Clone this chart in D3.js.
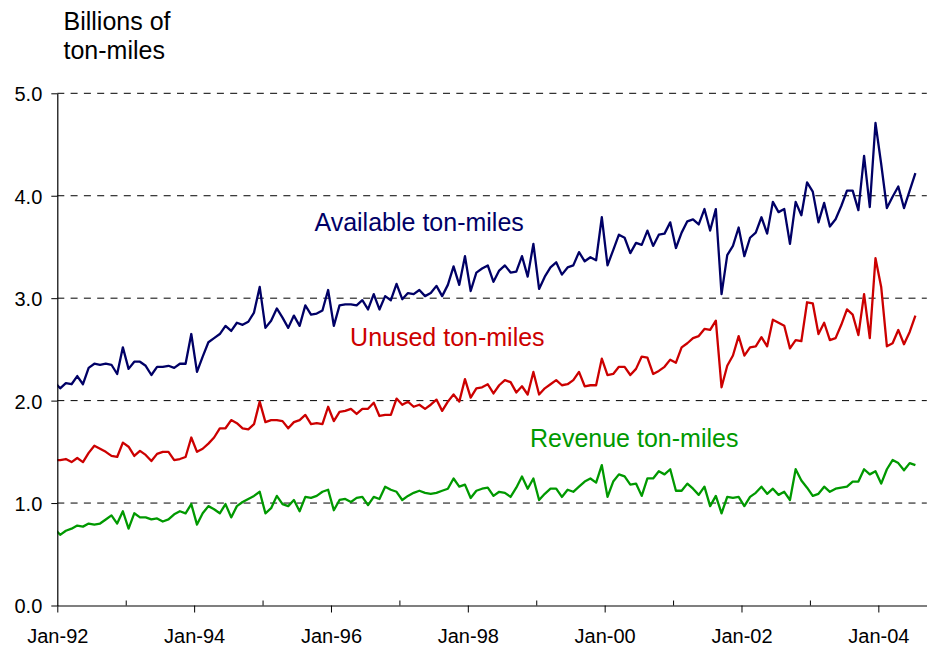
<!DOCTYPE html>
<html>
<head>
<meta charset="utf-8">
<script src="https://cdn.jsdelivr.net/npm/d3@7"></script>
<style>
  body { margin: 0; background: #fff; }
  text { font-family: "Liberation Sans", Arial, Helvetica, sans-serif; }
</style>
</head>
<body>
<svg id="chart" width="927" height="647"></svg>
<script>
// ---- Data (billions of ton-miles, monthly; first value is Dec-91, then Jan-92 .. Jul-04) ----
const firstMonth = { year: 1991, month: 11 }; // Dec-91 (0-based month)
const available = [
  2.18,
  2.12, 2.17, 2.16, 2.24, 2.16, 2.32, 2.36, 2.35, 2.36, 2.35, 2.26, 2.52,
  2.31, 2.38, 2.38, 2.34, 2.25, 2.33, 2.33, 2.34, 2.32, 2.36, 2.36, 2.65,
  2.28, 2.43, 2.57, 2.61, 2.65, 2.73, 2.68, 2.76, 2.74, 2.77, 2.86, 3.11,
  2.71, 2.78, 2.90, 2.81, 2.71, 2.83, 2.73, 2.93, 2.84, 2.85, 2.88, 3.08,
  2.73, 2.93, 2.94, 2.94, 2.93, 2.98, 2.89, 3.04, 2.89, 3.02, 2.98, 3.14,
  2.99, 3.05, 3.04, 3.08, 3.02, 3.05, 3.12, 3.02, 3.13, 3.31, 3.13, 3.41,
  3.07, 3.25, 3.29, 3.32, 3.16, 3.27, 3.32, 3.25, 3.26, 3.41, 3.21, 3.53,
  3.09, 3.21, 3.30, 3.35, 3.23, 3.30, 3.32, 3.45, 3.36, 3.40, 3.37, 3.79,
  3.32, 3.47, 3.62, 3.59, 3.44, 3.54, 3.52, 3.66, 3.51, 3.62, 3.63, 3.74,
  3.49, 3.64, 3.75, 3.77, 3.72, 3.87, 3.66, 3.87, 3.04, 3.42, 3.51, 3.69,
  3.41, 3.59, 3.64, 3.79, 3.63, 3.94, 3.84, 3.87, 3.53, 3.94, 3.81, 4.13,
  4.04, 3.74, 3.93, 3.70, 3.77, 3.90, 4.05, 4.05, 3.86, 4.39, 3.89, 4.71,
  4.31, 3.88, 3.99, 4.09, 3.88, 4.05, 4.22
];
const unused = [
  1.42,
  1.42, 1.43, 1.40, 1.44, 1.40, 1.49, 1.56, 1.53, 1.50, 1.46, 1.45, 1.59,
  1.55, 1.46, 1.51, 1.47, 1.41, 1.48, 1.50, 1.50, 1.42, 1.43, 1.45, 1.64,
  1.50, 1.53, 1.58, 1.64, 1.73, 1.73, 1.81, 1.78, 1.73, 1.72, 1.77, 1.99,
  1.79, 1.81, 1.81, 1.80, 1.73, 1.79, 1.81, 1.86, 1.77, 1.78, 1.77, 1.94,
  1.80, 1.89, 1.90, 1.92, 1.87, 1.92, 1.92, 1.98, 1.85, 1.86, 1.86, 2.02,
  1.96, 1.99, 1.94, 1.96, 1.92, 1.96, 2.01, 1.90, 1.99, 2.06, 1.99, 2.21,
  2.03, 2.12, 2.13, 2.16, 2.07, 2.15, 2.20, 2.18, 2.08, 2.14, 2.06, 2.28,
  2.06, 2.12, 2.16, 2.20, 2.15, 2.16, 2.20, 2.28, 2.14, 2.15, 2.15, 2.41,
  2.25, 2.26, 2.33, 2.33, 2.25, 2.31, 2.43, 2.42, 2.26, 2.29, 2.33, 2.40,
  2.37, 2.52, 2.56, 2.61, 2.63, 2.70, 2.69, 2.78, 2.13, 2.34, 2.44, 2.63,
  2.44, 2.52, 2.53, 2.62, 2.53, 2.79, 2.76, 2.73, 2.51, 2.59, 2.58, 2.96,
  2.95, 2.65, 2.76, 2.59, 2.61, 2.74, 2.89, 2.84, 2.64, 3.04, 2.61, 3.39,
  3.11, 2.53, 2.56, 2.69, 2.55, 2.67, 2.83
];
const revenue = [
  0.75,
  0.69, 0.73, 0.75, 0.78, 0.77, 0.80, 0.79, 0.80, 0.84, 0.88, 0.80, 0.92,
  0.75, 0.90, 0.86, 0.86, 0.84, 0.85, 0.82, 0.84, 0.89, 0.92, 0.90, 0.99,
  0.79, 0.90, 0.97, 0.94, 0.90, 0.99, 0.86, 0.97, 1.01, 1.04, 1.07, 1.11,
  0.90, 0.95, 1.07, 0.99, 0.97, 1.03, 0.92, 1.06, 1.05, 1.07, 1.11, 1.13,
  0.93, 1.03, 1.04, 1.01, 1.05, 1.06, 0.98, 1.06, 1.04, 1.16, 1.13, 1.11,
  1.03, 1.07, 1.10, 1.12, 1.10, 1.09, 1.10, 1.12, 1.14, 1.24, 1.16, 1.18,
  1.05, 1.12, 1.14, 1.15, 1.07, 1.11, 1.10, 1.06, 1.15, 1.26, 1.14, 1.24,
  1.03, 1.09, 1.14, 1.14, 1.06, 1.13, 1.11, 1.16, 1.21, 1.24, 1.20, 1.37,
  1.06, 1.21, 1.28, 1.26, 1.18, 1.19, 1.07, 1.24, 1.24, 1.31, 1.28, 1.33,
  1.12, 1.12, 1.19, 1.14, 1.08, 1.16, 0.97, 1.07, 0.90, 1.06, 1.05, 1.06,
  0.97, 1.06, 1.10, 1.16, 1.09, 1.14, 1.08, 1.11, 1.03, 1.33, 1.22, 1.15,
  1.07, 1.09, 1.16, 1.11, 1.14, 1.15, 1.16, 1.21, 1.21, 1.33, 1.28, 1.31,
  1.19, 1.33, 1.42, 1.39, 1.32, 1.39, 1.37
];
const yTicks = [0, 1, 2, 3, 4, 5];
const xTickLabels = ["Jan-92", "Jan-94", "Jan-96", "Jan-98", "Jan-00", "Jan-02", "Jan-04"];
const minorTickLabels = ["Jan-93", "Jan-95", "Jan-97", "Jan-99", "Jan-01", "Jan-03"];
const seriesNames = ["Available ton-miles", "Unused ton-miles", "Revenue ton-miles"];
const axisTitle = ["Billions of", "ton-miles"];

// ---- helpers ----
const monNames = ["Jan","Feb","Mar","Apr","May","Jun","Jul","Aug","Sep","Oct","Nov","Dec"];
function labelToMonth(lbl) { // months since Jan-92
  const [m, yy] = lbl.split("-");
  const year = 1900 + (+yy < 50 ? +yy + 100 : +yy);
  return (year - 1992) * 12 + monNames.indexOf(m);
}
const firstOffset = (firstMonth.year - 1992) * 12 + firstMonth.month; // -1
// points plotted mid-month
const monthPos = i => firstOffset + i + 0.5;

// ---- layout ----
const svg = d3.select("#chart");
const x = d3.scaleLinear().domain([0, 152.5]).range([57.3, 926.8]);
const y = d3.scaleLinear().domain([0, 5]).range([605.5, 93.3]);

const colors = { available: "#000066", unused: "#cc0000", revenue: "#009900" };

// clip
svg.append("defs").append("clipPath").attr("id", "plotClip")
  .append("rect")
  .attr("x", x(0)).attr("y", y(5) - 20)
  .attr("width", x(152.5) - x(0)).attr("height", y(0) - y(5) + 20);

// gridlines
svg.append("g").selectAll("line").data(yTicks.filter(d => d > 0)).join("line")
  .attr("x1", x(0)).attr("x2", x(152.5))
  .attr("y1", d => y(d)).attr("y2", d => y(d))
  .attr("stroke", "#000").attr("stroke-width", 1)
  .attr("stroke-dasharray", "7,6.3");

// series lines
const line = d3.line().x((d, i) => x(monthPos(i))).y(d => y(d));
const plot = svg.append("g").attr("clip-path", "url(#plotClip)");
[[available, colors.available], [unused, colors.unused], [revenue, colors.revenue]].forEach(([vals, c]) => {
  plot.append("path").datum(vals)
    .attr("d", line)
    .attr("fill", "none")
    .attr("stroke", c)
    .attr("stroke-width", 2.3)
    .attr("stroke-linejoin", "round");
});

// y axis
const yAxis = svg.append("g").attr("transform", `translate(${x(0)},0)`)
  .call(d3.axisLeft(y).tickValues(yTicks).tickSize(6).tickSizeOuter(0).tickPadding(9)
    .tickFormat(d3.format(".1f")));
yAxis.select(".domain").attr("stroke", "#000").attr("stroke-width", 1.2);
yAxis.selectAll(".tick line").attr("stroke", "#000");
yAxis.selectAll(".tick text").attr("font-size", 20).attr("fill", "#000")
  .attr("dy", "0.37em").style("font-family", '"Liberation Sans", Arial, sans-serif');

// x axis (labelled, outside ticks)
const xAxis = svg.append("g").attr("transform", `translate(0,${y(0)})`)
  .call(d3.axisBottom(x).tickValues(xTickLabels.map(labelToMonth)).tickSize(7).tickSizeOuter(0)
    .tickFormat((d, i) => xTickLabels[i]));
xAxis.select(".domain").attr("stroke", "#000").attr("stroke-width", 1.2);
xAxis.selectAll(".tick line").attr("stroke", "#000");
xAxis.selectAll(".tick text").attr("font-size", 20).attr("fill", "#000")
  .attr("y", 37.5).attr("dy", 0).style("font-family", '"Liberation Sans", Arial, sans-serif');

// x axis minor (inside ticks)
const xMinor = svg.append("g").attr("transform", `translate(0,${y(0)})`)
  .call(d3.axisBottom(x).tickValues(minorTickLabels.map(labelToMonth)).tickSize(-5).tickSizeOuter(0)
    .tickFormat(""));
xMinor.select(".domain").remove();
xMinor.selectAll(".tick line").attr("stroke", "#000");

// axis title
svg.append("text").attr("x", 63.5).attr("y", 29.5).attr("font-size", 25).attr("fill", "#000").text(axisTitle[0]);
svg.append("text").attr("x", 63.5).attr("y", 59).attr("font-size", 25).attr("fill", "#000").text(axisTitle[1]);

// series labels (anchored in data space)
const labelAnchors = [
  { name: seriesNames[0], month: 45.1, value: 3.657, color: colors.available },
  { name: seriesNames[1], month: 51.35, value: 2.534, color: colors.unused },
  { name: seriesNames[2], month: 82.9, value: 1.551, color: colors.revenue }
];
svg.append("g").selectAll("text").data(labelAnchors).join("text")
  .attr("x", d => x(d.month)).attr("y", d => y(d.value))
  .attr("font-size", 25).attr("fill", d => d.color)
  .text(d => d.name);
</script>
</body>
</html>
